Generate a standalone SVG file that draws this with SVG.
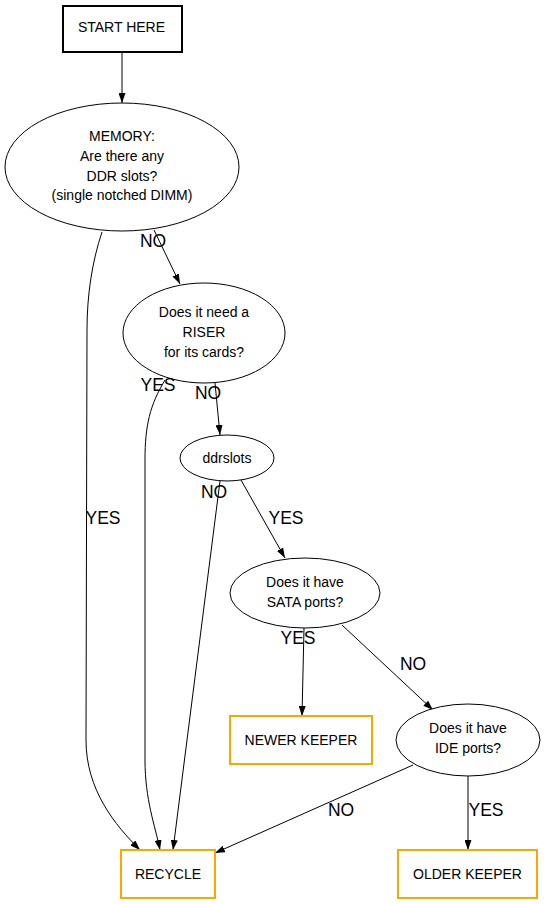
<svg xmlns="http://www.w3.org/2000/svg" width="545" height="904" viewBox="0 0 545 904">
<defs>
<style>
.n{fill:#fff;stroke:#000;stroke-width:1}
.s{fill:#fff;stroke:#000;stroke-width:2}
.o{fill:#fff;stroke:#ffa500;stroke-width:2}
.t{font-family:"Liberation Sans",Arial,sans-serif;font-size:14px;text-anchor:middle;fill:#000}
.e{fill:none;stroke:#000;stroke-width:1;marker-end:url(#a)}
.l{font-family:"Liberation Sans",Arial,sans-serif;font-size:17.5px;text-anchor:middle;fill:#000}
</style>
<marker id="a" viewBox="0 0 10 7" refX="10" refY="3.5" markerWidth="10" markerHeight="7" markerUnits="userSpaceOnUse" orient="auto">
<path d="M0,0 L10,3.5 L0,7 z" fill="#000"/>
</marker>
</defs>
<rect width="545" height="904" fill="#fff"/>
<g id="edges">
<path class="e" d="M122,53 L122,103"/>
<path class="e" d="M154,230 L180,284"/>
<path class="e" d="M102,232 C92,262 87,295 87,330 L86,740 C86,790 115,825 140,850"/>
<path class="e" d="M165,380 C150,405 145,425 145,460 L145,760 C145,800 155,825 160,850"/>
<path class="e" d="M215,383 L220,435"/>
<path class="e" d="M220,481 L173,850"/>
<path class="e" d="M241,480 L285,558"/>
<path class="e" d="M304,628 L302,716"/>
<path class="e" d="M342,625 L433,710"/>
<path class="e" d="M413,765 L215,853"/>
<path class="e" d="M468,776 L468,850"/>
</g>
<g id="start">
<rect class="s" x="63" y="6" width="119" height="46"/>
<text class="t" x="121.5" y="32">START HERE</text>
</g>
<g id="memory">
<ellipse class="n" cx="122" cy="167" rx="117" ry="64"/>
<text class="t" x="122" y="141">MEMORY:</text>
<text class="t" x="122" y="161">Are there any</text>
<text class="t" x="122" y="181">DDR slots?</text>
<text class="t" x="122" y="200">(single notched DIMM)</text>
</g>
<g id="riser">
<ellipse class="n" cx="204" cy="333" rx="81" ry="50"/>
<text class="t" x="204" y="317">Does it need a</text>
<text class="t" x="204" y="337">RISER</text>
<text class="t" x="204" y="357">for its cards?</text>
</g>
<g id="ddrslots">
<ellipse class="n" cx="227" cy="458" rx="47" ry="23"/>
<text class="t" x="227" y="463">ddrslots</text>
</g>
<g id="sata">
<ellipse class="n" cx="305" cy="593" rx="75" ry="35"/>
<text class="t" x="305" y="587">Does it have</text>
<text class="t" x="305" y="607">SATA ports?</text>
</g>
<g id="newer">
<rect class="o" x="230" y="716" width="142" height="48"/>
<text class="t" x="301" y="745">NEWER KEEPER</text>
</g>
<g id="ide">
<ellipse class="n" cx="468" cy="740" rx="72" ry="36"/>
<text class="t" x="468" y="733">Does it have</text>
<text class="t" x="468" y="753">IDE ports?</text>
</g>
<g id="recycle">
<rect class="o" x="121" y="850" width="94" height="48"/>
<text class="t" x="168" y="879">RECYCLE</text>
</g>
<g id="older">
<rect class="o" x="398" y="850" width="139" height="48"/>
<text class="t" x="467.5" y="879">OLDER KEEPER</text>
</g>
<g id="labels">
<text class="l" x="153" y="247">NO</text>
<text class="l" x="103" y="524">YES</text>
<text class="l" x="158" y="391">YES</text>
<text class="l" x="208" y="399">NO</text>
<text class="l" x="214" y="498">NO</text>
<text class="l" x="286" y="524">YES</text>
<text class="l" x="298" y="644">YES</text>
<text class="l" x="413" y="670">NO</text>
<text class="l" x="341" y="816">NO</text>
<text class="l" x="486" y="816">YES</text>
</g>
</svg>
